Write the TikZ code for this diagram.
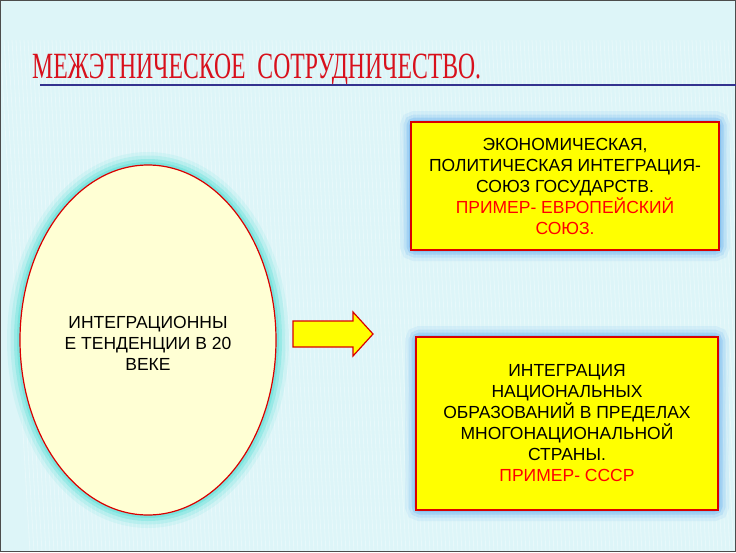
\documentclass[tikz,border=0pt]{standalone}
\usepackage{fontspec}
\setmainfont{Liberation Sans}
\newfontfamily\titlefont[FakeStretch=0.64]{Liberation Serif}
\usetikzlibrary{shapes.geometric}
\definecolor{bgc}{HTML}{DDF5F8}
\definecolor{ttl}{HTML}{D8101C}
\definecolor{boxy}{HTML}{FFFF00}
\definecolor{ely}{HTML}{FFFFD4}
\definecolor{glowb}{HTML}{6FB4F0}
\definecolor{glowt}{HTML}{5FE0D8}
\tikzset{
 txt/.style={font=\fontsize{17.5}{21}\selectfont, align=center},
}
\begin{document}
\begin{tikzpicture}[x=1pt,y=-1pt]
\useasboundingbox (0,0) rectangle (736,552);
\fill[bgc] (0,0) rectangle (736,552);
\foreach \i in {0,4,...,736} \draw[white,opacity=0.35,line width=0.8pt] (\i,40) -- (\i+30,552);
\draw[gray!60!black,line width=1pt] (0.5,0.5) rectangle (735.5,551.5);
\node[anchor=base west,inner sep=0,text=ttl,font=\titlefont\fontsize{37}{37}\selectfont] (title) at (32,78) {МЕЖЭТНИЧЕСКОЕ\ \ СОТРУДНИЧЕСТВО.};
\draw[blue!45!black!80,line width=1.2pt] (40,85) -- (736,85);
% ellipse glow
\foreach \w/\o in {26/0.12,19/0.2,12/0.35,6/0.5}
 \draw[glowt,opacity=\o,line width=\w pt] (148,340) ellipse [x radius=128, y radius=175];
\node[draw=red!85!black,line width=1.2pt,fill=ely,ellipse,minimum width=256,minimum height=350,inner sep=0] (ell) at (148,340) {};
\node[txt] (eltxt) at (148,343) {ИНТЕГРАЦИОННЫ\\Е ТЕНДЕНЦИИ В 20\\ВЕКЕ};
% boxes glow
\foreach \w/\o in {22/0.12,15/0.2,9/0.35,4/0.5}{
 \draw[glowb,opacity=\o,line width=\w pt,rounded corners=4] (411,122) rectangle (719,250);
 \draw[glowb,opacity=\o,line width=\w pt,rounded corners=4] (416,337) rectangle (718,510);}
\draw[draw=red!85!black,line width=1.2pt,fill=boxy] (411,122) rectangle (719,250);
\draw[draw=red!85!black,line width=1.2pt,fill=boxy] (416,337) rectangle (718,510);
\node[txt] (b1) at (565,186) {ЭКОНОМИЧЕСКАЯ,\\ПОЛИТИЧЕСКАЯ ИНТЕГРАЦИЯ-\\СОЮЗ ГОСУДАРСТВ.\\\textcolor{red}{ПРИМЕР- ЕВРОПЕЙСКИЙ}\\\textcolor{red}{СОЮЗ.}};
\node[txt] (b2) at (567,423) {ИНТЕГРАЦИЯ\\НАЦИОНАЛЬНЫХ\\ОБРАЗОВАНИЙ В ПРЕДЕЛАХ\\МНОГОНАЦИОНАЛЬНОЙ\\СТРАНЫ.\\\textcolor{red}{ПРИМЕР- СССР}};
% arrow
\draw[draw=red!85!black,line width=1.2pt,fill=boxy] (293,321) -- (353,321) -- (353,312) -- (373,334) -- (353,356) -- (353,347) -- (293,347) -- cycle;
\end{tikzpicture}
\end{document}
